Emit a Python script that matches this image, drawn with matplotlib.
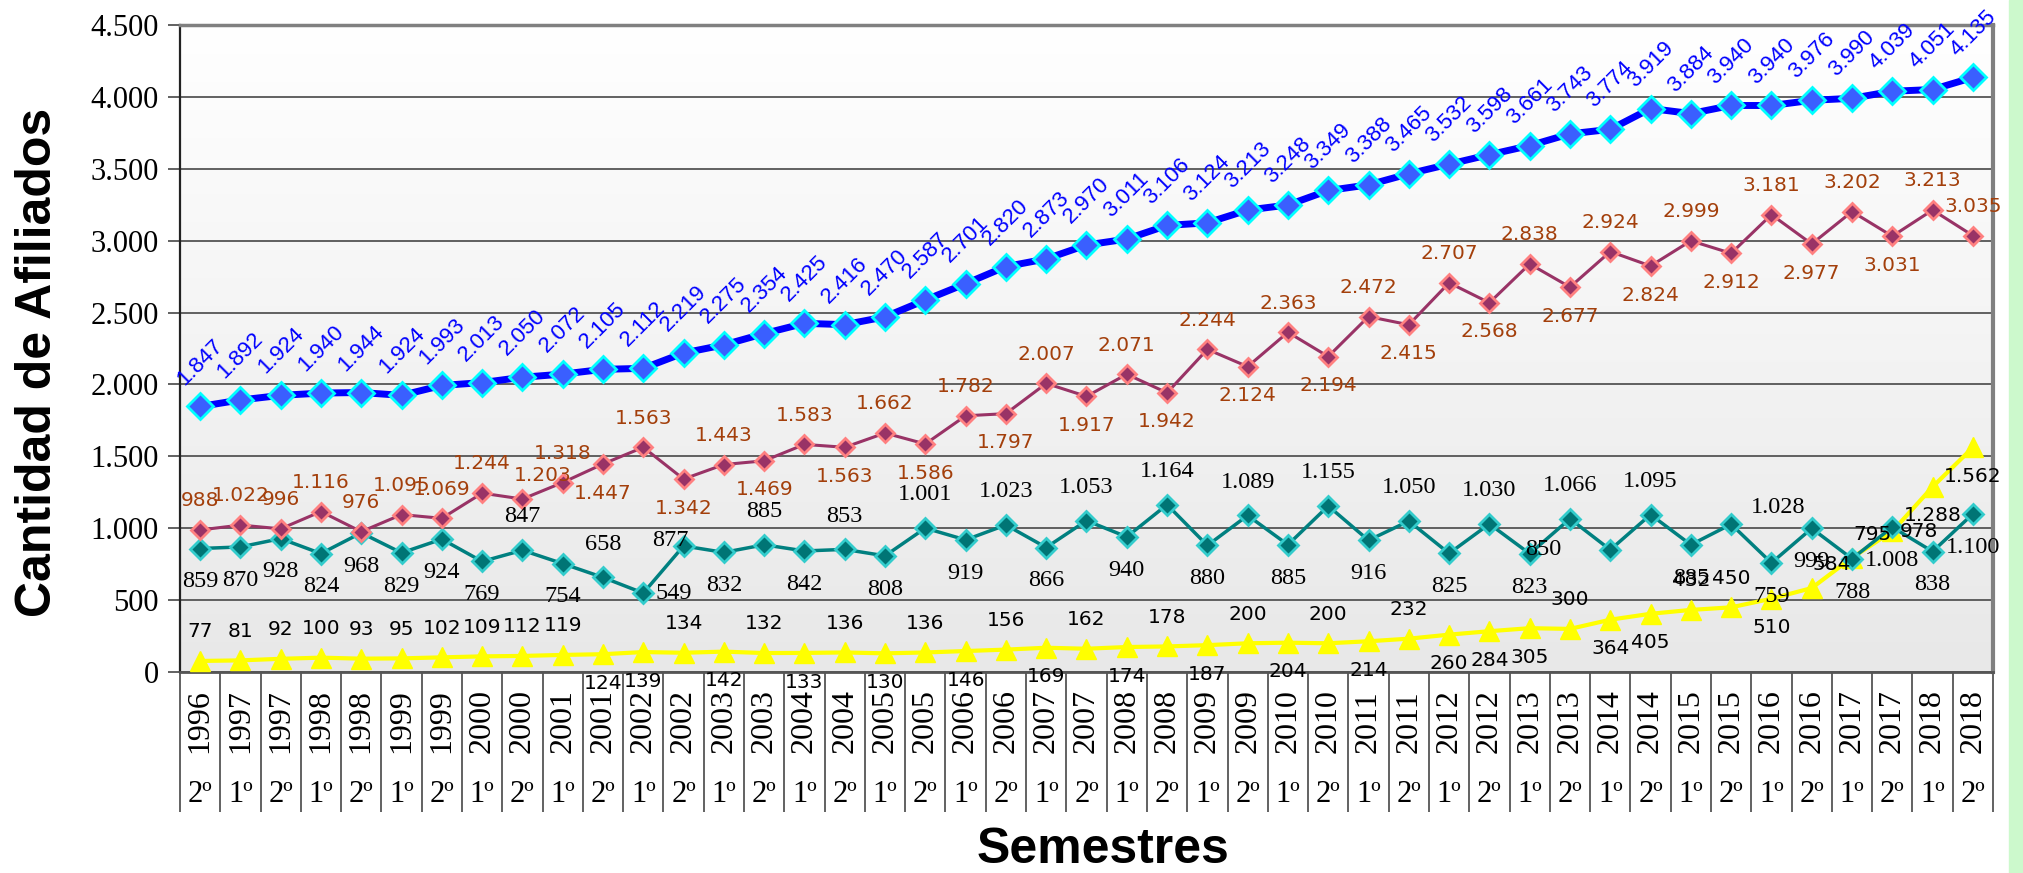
import numpy as np
import matplotlib
matplotlib.use("Agg")
import matplotlib.pyplot as plt
from matplotlib.transforms import blended_transform_factory
from matplotlib.patches import Rectangle
from matplotlib.colors import LinearSegmentedColormap

years = ['1996', '1997', '1997', '1998', '1998', '1999', '1999', '2000', '2000',
         '2001', '2001', '2002', '2002', '2003', '2003', '2004', '2004', '2005',
         '2005', '2006', '2006', '2007', '2007', '2008', '2008', '2009', '2009',
         '2010', '2010', '2011', '2011', '2012', '2012', '2013', '2013', '2014',
         '2014', '2015', '2015', '2016', '2016', '2017', '2017', '2018', '2018']
semesters = ['2º', '1º', '2º', '1º', '2º', '1º', '2º', '1º', '2º', '1º', '2º', '1º',
             '2º', '1º', '2º', '1º', '2º', '1º', '2º', '1º', '2º', '1º', '2º', '1º',
             '2º', '1º', '2º', '1º', '2º', '1º', '2º', '1º', '2º', '1º', '2º', '1º',
             '2º', '1º', '2º', '1º', '2º', '1º', '2º', '1º', '2º']

total = [1847, 1892, 1924, 1940, 1944, 1924, 1993, 2013, 2050, 2072,
         2105, 2112, 2219, 2275, 2354, 2425, 2416, 2470, 2587, 2701,
         2820, 2873, 2970, 3011, 3106, 3124, 3213, 3248, 3349, 3388,
         3465, 3532, 3598, 3661, 3743, 3774, 3919, 3884, 3940, 3940,
         3976, 3990, 4039, 4051, 4135]
red = [988, 1022, 996, 1116, 976, 1095, 1069, 1244, 1203, 1318,
       1447, 1563, 1342, 1443, 1469, 1583, 1563, 1662, 1586, 1782,
       1797, 2007, 1917, 2071, 1942, 2244, 2124, 2363, 2194, 2472,
       2415, 2707, 2568, 2838, 2677, 2924, 2824, 2999, 2912, 3181,
       2977, 3202, 3031, 3213, 3035]
teal = [859, 870, 928, 824, 968, 829, 924, 769, 847, 754,
        658, 549, 877, 832, 885, 842, 853, 808, 1001, 919,
        1023, 866, 1053, 940, 1164, 880, 1089, 885, 1155, 916,
        1050, 825, 1030, 823, 1066, 850, 1095, 885, 1028, 759,
        999, 788, 1008, 838, 1100]
yellow = [77, 81, 92, 100, 93, 95, 102, 109, 112, 119,
          124, 139, 134, 142, 132, 133, 136, 130, 136, 146,
          156, 169, 162, 174, 178, 187, 200, 204, 200, 214,
          232, 260, 284, 305, 300, 364, 405, 432, 450, 510,
          584, 795, 978, 1288, 1562]

# where each value label sits: a above, b below, r upper right, R right,
# e up and right, L far left, c on the point
red_pos = 'a' * 8 + 'e' + 'a' + 'ba' * 17 + 'a'
teal_pos = 'b' * 8 + 'ab' + 'aR' + 'c' + 'ba' * 11 + 'La' + 'br' + 'bbbbbb'
yellow_pos = 'a' * 10 + 'bb' + 'ab' * 9 + 'a' + 'bbb' + 'a' + 'bb' + 'aa' + 'b' + 'ee' + 'R' + 'bb'

def fmt(v):
    return f'{v:,}'.replace(',', '.')

fig = plt.figure(figsize=(20.24, 8.73), dpi=100)
fig.patches.append(Rectangle((0.9926, 0), 0.0074, 1, transform=fig.transFigure,
                             color='#ccf9cc', zorder=0))
ax = fig.add_axes([0.0889, 0.2302, 0.8958, 0.7412])
x = np.arange(len(total))

# background: white at the top fading to light grey at the bottom
grad = np.linspace(0, 1, 256).reshape(-1, 1)
ax.imshow(grad, extent=[-0.5, 44.5, 0, 4500], aspect='auto', origin='upper',
          cmap=LinearSegmentedColormap.from_list('bg', ['#ffffff', '#e8e8e8']),
          zorder=0, vmin=0, vmax=1)

ax.set_xlim(-0.5, 44.5)
ax.set_ylim(0, 4500)
ax.set_yticks(np.arange(0, 4501, 500))
ax.set_yticklabels([fmt(v) for v in range(0, 4501, 500)], family='Liberation Serif', fontsize=22)
ax.grid(axis='y', color='#555555', lw=1.3, zorder=1)
ax.tick_params(axis='y', length=9, width=1.3, color='#555555', pad=6)

ax.set_xticks(x)
ax.set_xticklabels([])
ax.set_xticks(np.arange(-0.5, 45, 1), minor=True)
ax.tick_params(axis='x', which='major', length=0)
ax.tick_params(axis='x', which='minor', length=101, width=1.3, color='#555555')

ax.spines['top'].set_color('#808080')
ax.spines['top'].set_linewidth(2.5)
ax.spines['right'].set_color('#808080')
ax.spines['right'].set_linewidth(3)
ax.spines['left'].set_color('#222222')
ax.spines['left'].set_linewidth(1.6)
ax.spines['bottom'].set_color('#555555')
ax.spines['bottom'].set_linewidth(2)

tr = blended_transform_factory(ax.transData, ax.transAxes)
for i in x:
    ax.text(i, -0.076, years[i], transform=tr, rotation=90, ha='center', va='center',
            family='Liberation Serif', fontsize=23)
    ax.text(i, -0.189, semesters[i], transform=tr, ha='center', va='center',
            family='Liberation Serif', fontsize=22)

ax.plot(x, yellow, color='#ffff00', lw=3, marker='^', ms=14, mfc='#ffff00', mec='#ffff00', zorder=3)
ax.plot(x, teal, color='#008080', lw=2.5, marker='D', ms=10, mfc='#007575', mec='#33cccc', mew=2, zorder=4)
ax.plot(x, red, color='#993366', lw=2.2, marker='D', ms=9, mfc='#993366', mec='#ff8080', mew=2, zorder=4)
ax.plot(x, total, color='#0000ff', lw=5, marker='D', ms=13, mfc='#3a5fff', mec='#00ffff', mew=2, zorder=5)

offsets = {'a': (0, 1), 'b': (0, -1), 'r': (1.4, 0.5), 'R': (0.9, 0),
           'e': (0.7, 0.8), 'L': (-2.0, 0), 'c': (-0.4, 0.15)}

def put_labels(vals, pos, dist, color, family, size):
    for i, v in enumerate(vals):
        dx, dy = offsets[pos[i]]
        ax.annotate(fmt(v), (i, v), xytext=(dx * dist, dy * dist), textcoords='offset points',
                    ha='center', va='center', color=color, family=family, fontsize=size, zorder=6)

put_labels(red, red_pos, 21, '#a33f0b', 'DejaVu Sans', 14.5)
put_labels(teal, teal_pos, 24, 'black', 'Liberation Serif', 17.5)
put_labels(yellow, yellow_pos, 21, 'black', 'DejaVu Sans', 14.5)

for i, v in enumerate(total):
    ax.annotate(fmt(v), (i, v), xytext=(0, 32), textcoords='offset points',
                ha='center', va='center', rotation=45, color='#0000ff',
                family='Liberation Sans', fontsize=16, zorder=6)

fig.text(0.019, 0.585, 'Cantidad de Afiliados', rotation=90, ha='center', va='center',
         family='Liberation Sans', fontweight='bold', fontsize=36)
fig.text(0.545, 0.026, 'Semestres', ha='center', va='center',
         family='Liberation Sans', fontweight='bold', fontsize=36)

fig.savefig('out.png', dpi=100)
